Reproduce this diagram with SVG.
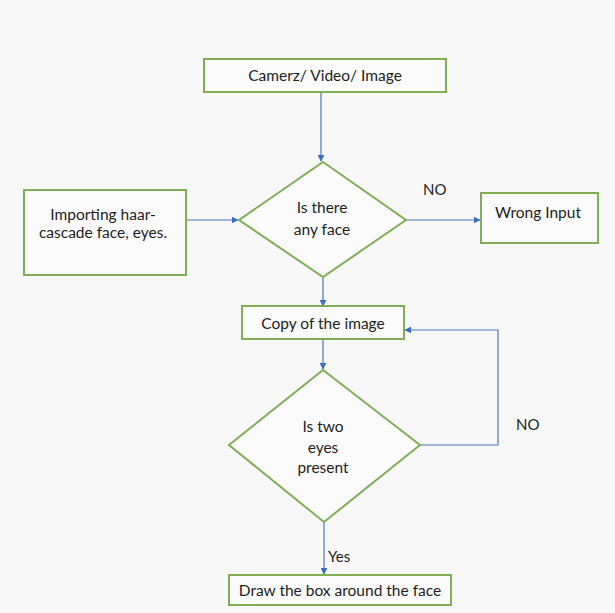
<svg xmlns="http://www.w3.org/2000/svg" width="615" height="613" viewBox="0 0 615 613">
<defs>
<marker id="arr" viewBox="0 0 10 10" refX="9" refY="5" markerWidth="7" markerHeight="7" markerUnits="userSpaceOnUse" orient="auto">
<path d="M0,0 L10,5 L0,10 z" fill="#3a6fc4"/>
</marker>
<style>
.box{fill:#fbfbfb;stroke:#7fae55;stroke-width:2}
.t{font-family:Lato,"Open Sans",sans-serif;font-size:15.5px;fill:#1e1e1e;text-anchor:middle}
.lbl{font-family:Lato,"Open Sans",sans-serif;font-size:15px;fill:#1e1e1e}
.c{fill:none;stroke:#4a78c2;stroke-width:1.2;marker-end:url(#arr)}
</style>
</defs>
<rect width="615" height="613" fill="#f8f8f8"/>
<g id="connectors">
<path class="c" d="M321,92 L321,161"/>
<path class="c" d="M186,220 L238,220"/>
<path class="c" d="M406,220 L480,220"/>
<path class="c" d="M323,277 L323,306"/>
<path class="c" d="M323,339 L323,369"/>
<path class="c" d="M420,445 L498,445 L498,330 L405,330"/>
<path class="c" d="M324,522 L324,574"/>
</g>
<g id="n-camera">
<rect class="box" x="204" y="59" width="242" height="33"/>
<text class="t" x="325" y="81">Camerz/ Video/ Image</text>
</g>
<g id="n-haar">
<rect class="box" x="24" y="190" width="162" height="85"/>
<text class="t" x="103" y="220">Importing haar-</text>
<text class="t" x="103" y="238">cascade face, eyes.</text>
</g>
<g id="n-face">
<polygon class="box" points="323,162 406,220 323,277 239,220"/>
<text class="t" x="322" y="213">Is there</text>
<text class="t" x="322" y="235">any face</text>
</g>
<g id="n-wrong">
<rect class="box" x="481" y="193" width="117" height="50"/>
<text class="t" x="538" y="218">Wrong Input</text>
<text class="lbl" x="423" y="195">NO</text>
</g>
<g id="n-copy">
<rect class="box" x="242" y="306" width="162" height="33"/>
<text class="t" x="323" y="329">Copy of the image</text>
</g>
<g id="n-eyes">
<polygon class="box" points="323,370 420,445 324,522 229,445"/>
<text class="t" x="323" y="432">Is two</text>
<text class="t" x="323" y="453">eyes</text>
<text class="t" x="323" y="473">present</text>
<text class="lbl" x="516" y="430">NO</text>
</g>
<g id="n-draw">
<rect class="box" x="229" y="575" width="222" height="30"/>
<text class="t" x="340" y="596">Draw the box around the face</text>
<text class="lbl" x="328" y="562">Yes</text>
</g>
</svg>
